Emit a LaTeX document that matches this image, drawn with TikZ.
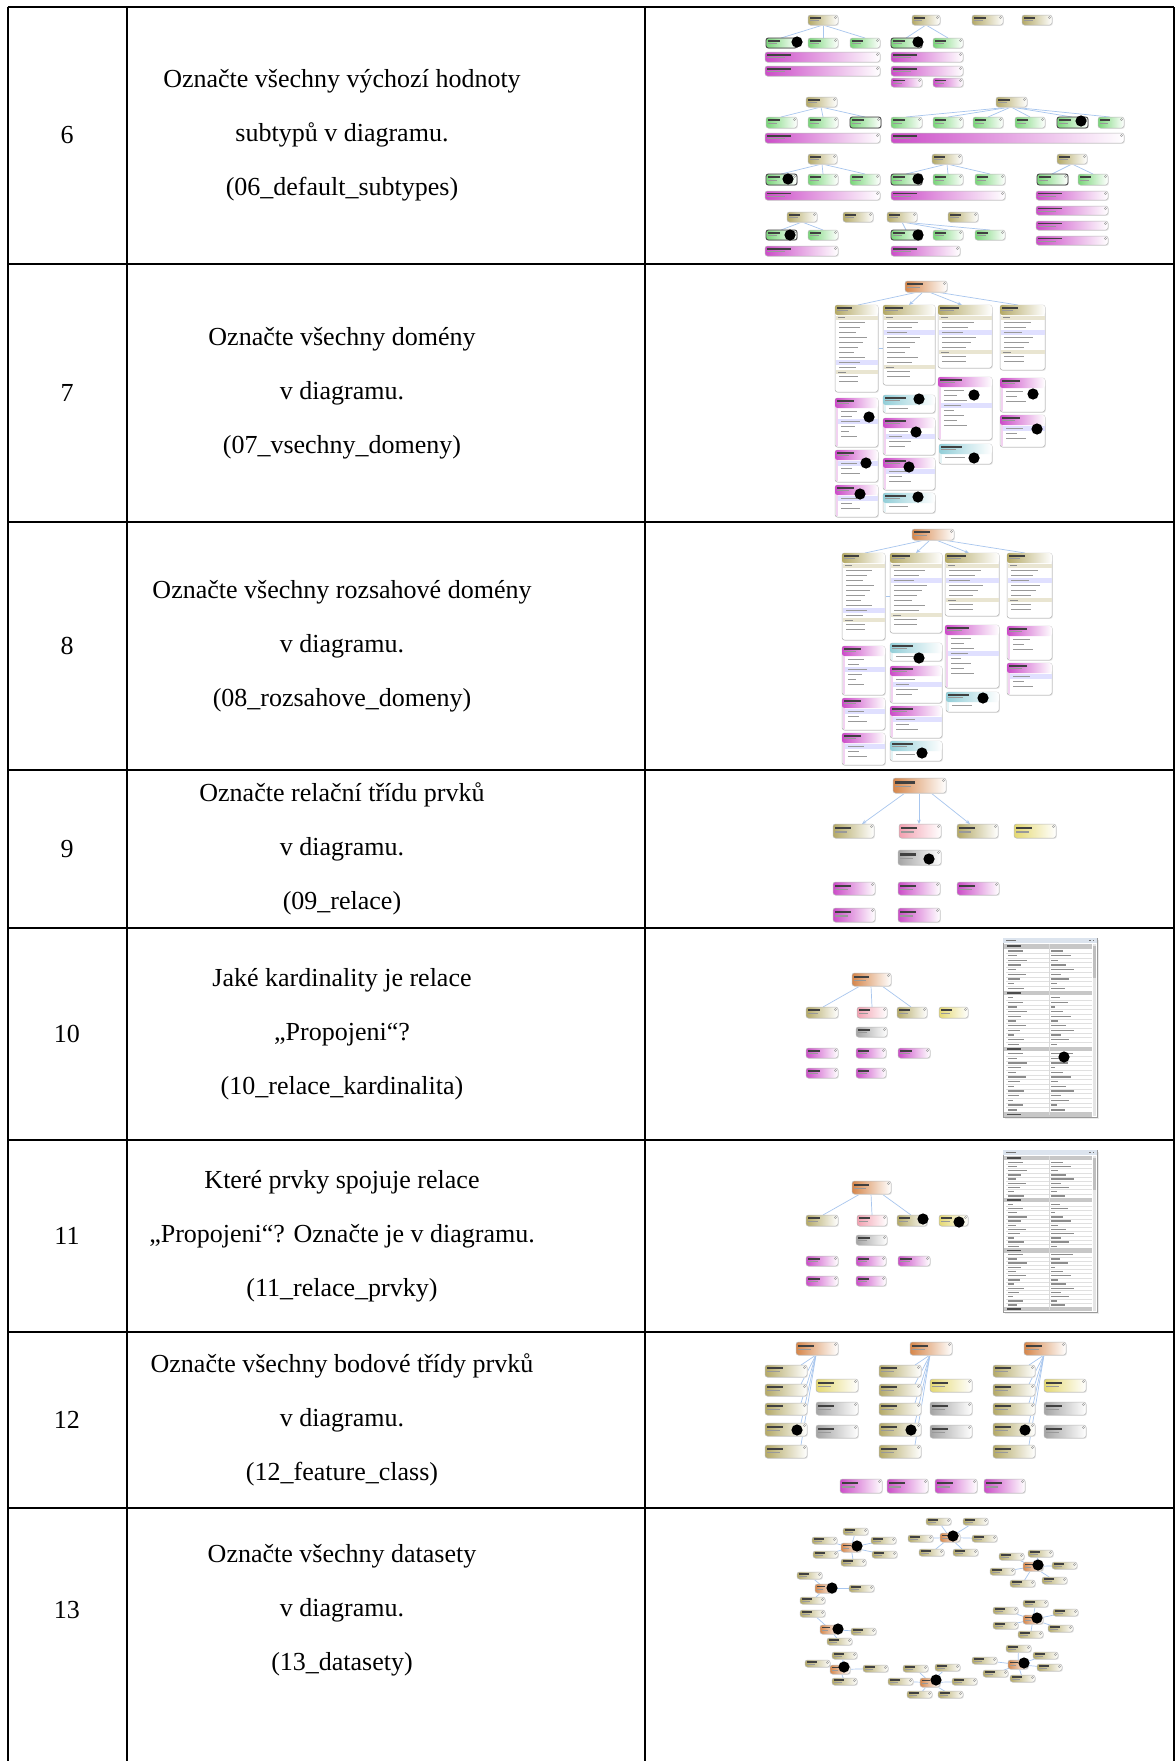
\documentclass[tikz,border=0pt]{standalone}
\usepackage{fontspec}
\setmainfont{Liberation Serif}
\usetikzlibrary{arrows.meta}
\definecolor{fccol}{HTML}{B4A966}
\definecolor{stcol}{HTML}{78D678}
\definecolor{dmcol}{HTML}{CC4CC8}
\definecolor{fdcol}{HTML}{D6864A}
\definecolor{rgcol}{HTML}{92CED8}
\definecolor{rlcol}{HTML}{A4A4A4}
\definecolor{tbcol}{HTML}{E4D870}
\definecolor{tpcol}{HTML}{F2A0B0}
\definecolor{lnkcol}{HTML}{A8C6EE}
\definecolor{panelbar}{HTML}{DCE4EE}
\tikzset{
  tablerule/.style={line width=1pt,black},
  lnk/.style={draw=lnkcol,line width=0.35pt},
  lnka/.style={lnk,-{Stealth[length=2.2pt,width=1.8pt]}},
  celltext/.style={font=\fontsize{13}{27}\selectfont,align=center,inner sep=0pt},
}
% small diagram element: colour, x1, y1, x2, y2 (pixel units)
\newcommand\nd[5]{%
  \fill[black!9,rounded corners=1.2pt] ({#2+0.8},{#3+0.8}) rectangle ({#4+0.8},{#5+0.8});
  \shade[left color=#1,middle color=#1!55,right color=white,rounded corners=1.2pt] (#2,#3) rectangle (#4,#5);
  \draw[black!28,line width=0.25pt,rounded corners=1.2pt] (#2,#3) rectangle (#4,#5);
  \fill[black!75] ({#2+2},{#3+0.2*(#5-#3)}) rectangle ({#2+2+min(0.38*(#4-#2),24)},{#3+0.37*(#5-#3)});
  \fill[black!40] ({#2+2},{#3+0.5*(#5-#3)}) rectangle ({#2+2+min(0.3*(#4-#2),18)},{#3+0.62*(#5-#3)});
  \draw[black!40,line width=0.2pt] ({#4-2.5},{#3+2.5}) circle[radius=0.55pt];
}
\newcommand\ndsel[5]{\nd{#1}{#2}{#3}{#4}{#5}%
  \draw[black!70,line width=0.45pt,rounded corners=1.2pt] (#2,#3) rectangle (#4,#5);}
\newcommand\mk[2]{\fill[black] (#1,#2) circle[radius=2.8pt];}
% feature class table: x1 y1 x2 y2 fields indexes highlighted-field
\newcommand\tb[7]{%
  \fill[black!9,rounded corners=1.2pt] ({#1+0.8},{#2+0.8}) rectangle ({#3+0.8},{#4+0.8});
  \filldraw[fill=white,draw=black!30,line width=0.25pt,rounded corners=1.2pt] (#1,#2) rectangle (#3,#4);
  \shade[left color=fccol,right color=white,rounded corners=1.2pt] (#1,#2) rectangle (#3,{#2+10});
  \fill[black!75] ({#1+2},{#2+2.2}) rectangle ({#1+2+0.35*(#3-#1)},{#2+3.8});
  \fill[black!40] ({#1+2},{#2+5.2}) rectangle ({#1+2+0.25*(#3-#1)},{#2+6.4});
  \fill[fccol!30] ({#1+0.5},{#2+10.5}) rectangle ({#3-0.5},{#2+14.5});
  \fill[black!45] ({#1+3},{#2+12}) rectangle ({#1+10},{#2+13});
  \foreach \i in {1,...,#5} {%
    \ifnum\i=#7 \fill[blue!12] ({#1+0.5},{#2+14.5+5*(\i-1)}) rectangle ({#3-0.5},{#2+14.5+5*\i});\fi
    \fill[black!40] ({#1+4},{#2+16.5+5*(\i-1)}) rectangle ({#1+6+(0.3+0.05*mod(\i*5,7))*(#3-#1)},{#2+17.5+5*(\i-1)});
  }
  \fill[fccol!30] ({#1+0.5},{#2+15+5*#5}) rectangle ({#3-0.5},{#2+19+5*#5});
  \fill[black!45] ({#1+3},{#2+16.5+5*#5}) rectangle ({#1+11},{#2+17.5+5*#5});
  \foreach \i in {1,...,#6} {%
    \fill[black!40] ({#1+4},{#2+21+5*#5+5*(\i-1)}) rectangle ({#1+6+0.4*(#3-#1)},{#2+22+5*#5+5*(\i-1)});
  }
}
% domain: colour x1 y1 x2 y2 values highlighted-value
\newcommand\dm[7]{%
  \fill[black!9,rounded corners=1.2pt] ({#2+0.8},{#3+0.8}) rectangle ({#4+0.8},{#5+0.8});
  \filldraw[fill=white,draw=black!30,line width=0.25pt,rounded corners=1.2pt] (#2,#3) rectangle (#4,#5);
  \shade[left color=#1,right color=white,rounded corners=1.2pt] (#2,#3) rectangle (#4,{#3+10});
  \fill[black!75] ({#2+2},{#3+2.2}) rectangle ({#2+2+0.4*(#4-#2)},{#3+3.8});
  \fill[black!40] ({#2+2},{#3+5.2}) rectangle ({#2+2+0.28*(#4-#2)},{#3+6.4});
  \fill[#1!25] ({#2+0.5},{#3+10}) rectangle ({#2+3},{#5-1});
  \foreach \i in {1,...,#6} {%
    \ifnum\i=#7 \fill[blue!12] ({#2+3},{#3+10.5+5*(\i-1)}) rectangle ({#4-0.5},{#3+10.5+5*\i});\fi
    \fill[black!40] ({#2+6},{#3+12.5+5*(\i-1)}) rectangle ({#2+8+(0.15+0.06*mod(\i*3,5))*(#4-#2)},{#3+13.5+5*(\i-1)});
  }
}
% property grid window: x1 y1 x2 y2 row-pitch
\newcommand\props[5]{%
  \fill[black!8] ({#1+1.5},{#2+1.5}) rectangle ({#3+1.5},{#4+1.5});
  \filldraw[fill=white,draw=black!40,line width=0.3pt] (#1,#2) rectangle (#3,#4);
  \fill[panelbar] (#1,#2) rectangle (#3,{#2+5});
  \fill[black!55] ({#1+3},{#2+2}) rectangle ({#1+13},{#2+3});
  \fill[black!55] ({#3-8},{#2+1.8}) rectangle ({#3-6.5},{#2+3.3});
  \fill[black!55] ({#3-4.5},{#2+1.8}) rectangle ({#3-3},{#2+3.3});
  \fill[black!10] ({#3-4},{#2+6}) rectangle ({#3-0.8},{#4-1});
  \fill[black!25] ({#3-3.6},{#2+8}) rectangle ({#3-1.2},{#2+40});
  \foreach \i in {0,...,36} {%
    \def\issec{0}%
    \ifnum\i=0 \def\issec{1}\fi
    \ifnum\i=10 \def\issec{1}\fi
    \ifnum\i=22 \def\issec{1}\fi
    \ifnum\i=36 \def\issec{1}\fi
    \ifnum\issec=1
      \fill[black!22] ({#1+1},{#2+6+#5*\i}) rectangle ({#3-5},{#2+6+#5*(\i+1)});
      \fill[black!70] ({#1+4},{#2+6+#5*(\i+0.3)}) rectangle ({#1+18},{#2+6+#5*(\i+0.65)});
    \else
      \draw[black!12,line width=0.2pt] ({#1+3},{#2+6+#5*(\i+1)}) -- ({#3-5},{#2+6+#5*(\i+1)});
      \fill[black!45] ({#1+5},{#2+6+#5*(\i+0.35)}) rectangle ({#1+10+mod(\i*7,11)*1.4},{#2+6+#5*(\i+0.65)});
      \fill[black!45] ({(#1+#3)/2+1},{#2+6+#5*(\i+0.35)}) rectangle ({(#1+#3)/2+5+mod(\i*5,13)*1.6},{#2+6+#5*(\i+0.65)});
    \fi
  }
  \draw[black!15,line width=0.2pt] ({(#1+#3)/2-1},{#2+6}) -- ({(#1+#3)/2-1},{#4-2});
}
% dataset with its feature classes: orange x y, list of class positions
\newcommand\cl[3]{%
  \foreach \a/\b in {#3} {\draw[lnk] ({#1+10},{#2+4.5}) -- ({\a+12.5},{\b+3.5});}
  \foreach \a/\b in {#3} {\nd{fccol}{\a}{\b}{\a+25}{\b+7}}
  \nd{fdcol}{#1}{#2}{#1+20}{#2+9}
}
% geodatabase schema with tables and domains
\newcommand\schema{%
  \draw[lnk] (918,292) -- (858,305);
  \draw[lnka] (923,292) -- (909,305);
  \draw[lnka] (929,292) -- (962,305);
  \draw[lnk] (936,292) -- (1018,305);
  \draw[lnk] (878,348) -- (883,348);
  \nd{fdcol}{905}{281}{947}{292}
  \tb{835}{305}{878}{392}{10}{2}{9}
  \tb{883}{305}{935}{385}{9}{2}{3}
  \tb{938}{305}{992}{368}{6}{2}{3}
  \tb{1000}{305}{1045}{370}{6}{2}{3}
  \dm{dmcol}{835}{398}{878}{447}{6}{3}
  \dm{rgcol}{883}{395}{935}{413}{1}{0}
  \dm{dmcol}{883}{418}{935}{455}{4}{2}
  \dm{dmcol}{883}{458}{935}{490}{3}{1}
  \dm{rgcol}{883}{493}{935}{513}{1}{0}
  \dm{dmcol}{835}{450}{878}{482}{3}{1}
  \dm{dmcol}{835}{485}{878}{517}{3}{1}
  \dm{dmcol}{938}{377}{992}{440}{8}{4}
  \dm{rgcol}{939}{444}{992}{464}{1}{0}
  \dm{dmcol}{1000}{378}{1045}{412}{3}{0}
  \dm{dmcol}{1000}{415}{1045}{447}{3}{1}
}
% relationship overview used in two rows: vertical offset
\newcommand\relview[1]{%
  \begin{scope}[shift={(0,#1)}]
    \draw[lnk] (860,986) -- (823,1007);
    \draw[lnk] (871,986) -- (872,1007);
    \draw[lnk] (882,986) -- (911,1007);
    \nd{fdcol}{852}{973}{891}{986}
    \nd{fccol}{806}{1007}{838}{1018}
    \nd{tpcol}{857}{1007}{887}{1018}
    \nd{fccol}{897}{1007}{927}{1018}
    \nd{tbcol}{939}{1007}{968}{1018}
    \nd{rlcol}{856}{1027}{887}{1037}
    \nd{dmcol}{806}{1048}{838}{1058}
    \nd{dmcol}{856}{1048}{886}{1058}
    \nd{dmcol}{898}{1048}{930}{1058}
    \nd{dmcol}{806}{1068}{838}{1078}
    \nd{dmcol}{856}{1068}{886}{1078}
  \end{scope}
}
\begin{document}
\begin{tikzpicture}[x=0.5pt,y=-0.5pt]
\useasboundingbox[fill=white] (0,0) rectangle (1175,1761);

% ---------- row 6: subtypes ----------
\draw[lnk] (823,25) -- (781,38); \draw[lnk] (823,25) -- (823,38); \draw[lnk] (823,25) -- (865,38);
\draw[lnk] (926,25) -- (906,38); \draw[lnk] (926,25) -- (948,38);
\foreach \c in {781,823,865} {\draw[lnk] (821,107) -- (\c,117);}
\foreach \c in {906,948,988,1030,1072,1110} {\draw[lnk] (1011,107) -- (\c,117);}
\foreach \c in {781,823,865} {\draw[lnk] (822,164) -- (\c,174);}
\foreach \c in {906,948,990} {\draw[lnk] (947,164) -- (\c,174);}
\foreach \c in {1052,1093} {\draw[lnk] (1072,164) -- (\c,174);}
\foreach \c in {781,823} {\draw[lnk] (802,222) -- (\c,230);}
\foreach \c in {906,948,990} {\draw[lnk] (902,222) -- (\c,230);}
\nd{fccol}{808}{15}{838}{25}
\ndsel{stcol}{766}{38}{797}{48}
\nd{stcol}{808}{38}{838}{48}
\nd{stcol}{850}{38}{880}{48}
\nd{dmcol}{765}{52}{880}{62}
\nd{dmcol}{765}{66}{880}{76}
\nd{fccol}{912}{15}{940}{25}
\ndsel{stcol}{891}{38}{922}{48}
\nd{stcol}{933}{38}{963}{48}
\nd{dmcol}{891}{52}{963}{62}
\nd{dmcol}{891}{66}{963}{76}
\nd{dmcol}{891}{78}{922}{87}
\nd{dmcol}{933}{78}{963}{87}
\nd{fccol}{972}{15}{1003}{25}
\nd{fccol}{1022}{15}{1052}{25}
\nd{fccol}{806}{97}{837}{107}
\nd{stcol}{766}{117}{797}{128}
\nd{stcol}{808}{117}{838}{128}
\ndsel{stcol}{850}{117}{881}{128}
\nd{dmcol}{765}{133}{880}{143}
\nd{fccol}{996}{97}{1027}{107}
\nd{stcol}{891}{117}{922}{128}
\nd{stcol}{933}{117}{963}{128}
\nd{stcol}{973}{117}{1003}{128}
\nd{stcol}{1015}{117}{1045}{128}
\ndsel{stcol}{1057}{117}{1088}{128}
\nd{stcol}{1098}{117}{1124}{128}
\nd{dmcol}{891}{133}{1124}{143}
\nd{fccol}{808}{154}{837}{164}
\ndsel{stcol}{766}{174}{797}{185}
\nd{stcol}{808}{174}{838}{185}
\nd{stcol}{850}{174}{880}{185}
\nd{dmcol}{765}{191}{880}{200}
\nd{fccol}{932}{154}{962}{164}
\ndsel{stcol}{891}{174}{922}{185}
\nd{stcol}{933}{174}{963}{185}
\nd{stcol}{975}{174}{1005}{185}
\nd{dmcol}{891}{191}{1005}{200}
\nd{fccol}{1057}{154}{1087}{164}
\ndsel{stcol}{1037}{174}{1068}{185}
\nd{stcol}{1078}{174}{1108}{185}
\nd{dmcol}{1036}{191}{1108}{200}
\nd{dmcol}{1036}{206}{1108}{215}
\nd{dmcol}{1036}{221}{1108}{230}
\nd{dmcol}{1036}{236}{1108}{245}
\nd{fccol}{787}{212}{817}{222}
\nd{fccol}{843}{212}{873}{222}
\nd{fccol}{887}{212}{917}{222}
\nd{fccol}{948}{212}{978}{222}
\ndsel{stcol}{766}{230}{797}{240}
\nd{stcol}{808}{230}{838}{240}
\ndsel{stcol}{891}{230}{922}{240}
\nd{stcol}{933}{230}{963}{240}
\nd{stcol}{975}{230}{1005}{240}
\nd{dmcol}{765}{246}{838}{256}
\nd{dmcol}{891}{246}{960}{256}
\mk{797}{42} \mk{918}{42} \mk{1081}{121} \mk{788}{179} \mk{918}{179} \mk{790}{235} \mk{918}{235}

% ---------- row 7: all domains ----------
\schema
\mk{869}{417} \mk{919}{399} \mk{916}{432} \mk{909}{467} \mk{918}{497} \mk{866}{463}
\mk{860}{494} \mk{974}{395} \mk{974}{458} \mk{1033}{394} \mk{1037}{429}

% ---------- row 8: range domains ----------
\begin{scope}[shift={(7,248)}]
\schema
\end{scope}
\mk{919}{658} \mk{922}{753} \mk{983}{698}

% ---------- row 9: relationship class ----------
\draw[lnka] (905,793) -- (862,824);
\draw[lnka] (919,793) -- (919,824);
\draw[lnka] (931,793) -- (970,824);
\nd{fdcol}{893}{778}{946}{793}
\nd{fccol}{833}{824}{874}{838}
\nd{tpcol}{899}{824}{941}{838}
\nd{fccol}{957}{824}{998}{838}
\nd{tbcol}{1014}{824}{1056}{838}
\nd{rlcol}{898}{850}{941}{865}
\nd{dmcol}{833}{882}{875}{895}
\nd{dmcol}{898}{882}{940}{895}
\nd{dmcol}{957}{882}{999}{895}
\nd{dmcol}{833}{908}{875}{922}
\nd{dmcol}{898}{908}{940}{922}
\mk{929}{859}

% ---------- row 10: cardinality ----------
\relview{0}
\props{1003}{938}{1097}{1117}{4.67}
\mk{1064}{1057}

% ---------- row 11: related classes ----------
\relview{208}
\props{1003}{1150}{1097}{1312}{4.2}
\mk{923}{1219} \mk{959}{1222}

% ---------- row 12: feature classes ----------
\foreach \d in {0,114,228} {
  \begin{scope}[shift={(\d-114,0)}]
    \foreach \y in {1365,1384,1403,1423,1445} {\draw[lnk] (930,1355) -- (915,\y);}
    \nd{fdcol}{910}{1342}{952}{1355}
    \nd{fccol}{879}{1365}{921}{1377}
    \nd{fccol}{879}{1384}{921}{1396}
    \nd{fccol}{879}{1403}{921}{1415}
    \nd{fccol}{879}{1423}{921}{1436}
    \nd{fccol}{879}{1445}{921}{1458}
    \nd{tbcol}{930}{1379}{972}{1392}
    \nd{rlcol}{930}{1402}{972}{1415}
    \nd{rlcol}{930}{1425}{972}{1438}
    \mk{911}{1430}
  \end{scope}
}
\nd{dmcol}{840}{1479}{882}{1493}
\nd{dmcol}{887}{1479}{928}{1493}
\nd{dmcol}{935}{1479}{977}{1493}
\nd{dmcol}{984}{1479}{1025}{1493}

% ---------- row 13: datasets ----------
\cl{940}{1533}{926/1518,963/1518,908/1535,972/1535,919/1549,953/1549}
\cl{841}{1543}{843/1528,871/1537,872/1551,841/1559,812/1537,813/1551}
\cl{1023}{1562}{999/1553,1028/1550,1052/1562,990/1568,1010/1580,1042/1577}
\cl{815}{1584}{797/1572,849/1585,800/1597}
\cl{1023}{1615}{1023/1600,993/1607,1053/1609,993/1622,1048/1625,1018/1631}
\cl{820}{1625}{800/1610,851/1628,827/1638}
\cl{830}{1665}{832/1652,863/1665,805/1660,832/1678}
\cl{920}{1678}{903/1665,935/1664,888/1678,952/1678,907/1691,938/1691}
\cl{1008}{1660}{1006/1645,972/1657,1033/1652,1037/1664,983/1670,1010/1675}
\mk{953}{1536} \mk{857}{1546} \mk{1038}{1565} \mk{832}{1588} \mk{1037}{1618}
\mk{838}{1629} \mk{844}{1667} \mk{936}{1680} \mk{1024}{1663}

% ---------- table rules ----------
\draw[tablerule] (7.5,7) -- (1174,7);
\foreach \y in {264,522,770,928,1140,1332,1508} {\draw[tablerule] (7.5,\y) -- (1174,\y);}
\foreach \x in {7.5,127,645,1174} {\draw[tablerule] (\x,7) -- (\x,1761);}

% ---------- numbers ----------
\node[celltext] (n6) at (67,135.5) {6};
\node[celltext] (n7) at (67,393) {7};
\node[celltext] (n8) at (67,646) {8};
\node[celltext] (n9) at (67,849) {9};
\node[celltext] (n10) at (67,1034) {10};
\node[celltext] (n11) at (67,1236) {11};
\node[celltext] (n12) at (67,1420) {12};
\node[celltext] (n13) at (67,1610) {13};

% ---------- task texts ----------
\node[celltext] (q6) at (342,135.5) {Označte všechny výchozí hodnoty\\subtypů v diagramu.\\(06\_default\_subtypes)};
\node[celltext] (q7) at (342,393) {Označte všechny domény\\v diagramu.\\(07\_vsechny\_domeny)};
\node[celltext] (q8) at (342,646) {Označte všechny rozsahové domény\\v diagramu.\\(08\_rozsahove\_domeny)};
\node[celltext] (q9) at (342,849) {Označte relační třídu prvků\\v diagramu.\\(09\_relace)};
\node[celltext] (q10) at (342,1034) {Jaké kardinality je relace\\„Propojeni“?\\(10\_relace\_kardinalita)};
\node[celltext] (q11) at (342,1236) {Které prvky spojuje relace\\„Propojeni“? Označte je v diagramu.\\(11\_relace\_prvky)};
\node[celltext] (q12) at (342,1420) {Označte všechny bodové třídy prvků\\v diagramu.\\(12\_feature\_class)};
\node[celltext] (q13) at (342,1610) {Označte všechny datasety\\v diagramu.\\(13\_datasety)};
\end{tikzpicture}
\end{document}
